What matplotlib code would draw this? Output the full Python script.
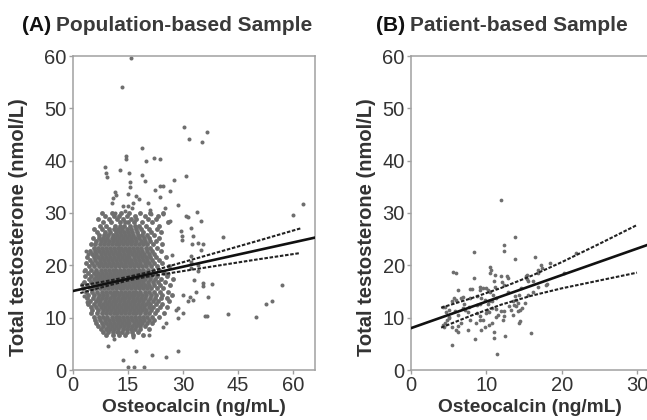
import matplotlib
matplotlib.use('Agg')
import matplotlib.pyplot as plt

plt.rcParams['font.family'] = ['Liberation Sans', 'DejaVu Sans']

# (A) dense cloud, read row by row: testosterone level -> osteocalcin values
cloud_y = [30.0, 29.4, 28.8, 28.2, 27.6, 27.0, 26.4, 25.8, 25.2, 24.6, 24.0, 23.4, 22.8, 22.2,
           21.6, 21.0, 20.4, 19.8, 19.2, 18.6, 18.0, 17.4, 16.8, 16.2, 15.6, 15.0, 14.4, 13.8,
           13.2, 12.6, 12.0, 11.4, 10.8, 10.2, 9.6, 9.0, 8.4, 7.8, 7.2, 6.6]
cloud_x = [
    [7.9, 10.6, 13.1, 15.4, 18.2, 21.0, 24.6],
    [8.8, 11.3, 12.6, 14.8, 16.9, 19.5, 23.1],
    [6.9, 9.7, 12.0, 13.7, 15.9, 17.3, 20.4, 22.6],
    [8.3, 10.4, 12.9, 14.2, 15.1, 16.6, 18.8, 21.5, 25.9],
    [7.4, 9.1, 11.5, 12.7, 13.9, 15.5, 16.8, 18.1, 19.9, 23.4],
    [5.8, 8.0, 9.9, 11.1, 12.3, 13.4, 14.6, 15.8, 17.2, 18.5, 20.7, 22.8],
    [6.6, 8.7, 10.2, 11.7, 12.8, 13.8, 14.9, 16.1, 17.5, 19.2, 21.3, 24.1],
    [7.2, 8.5, 9.6, 10.8, 11.9, 13.0, 14.2, 15.3, 16.4, 17.7, 18.9, 20.2, 22.0],
    [5.4, 7.0, 8.2, 9.3, 10.5, 11.4, 12.5, 13.6, 14.7, 15.7, 16.9, 18.0, 19.3, 20.8, 23.5],
    [6.3, 7.6, 8.8, 9.9, 11.0, 12.1, 13.1, 14.1, 15.2, 16.2, 17.3, 18.5, 19.7, 21.1, 22.6],
    [4.9, 6.0, 7.3, 8.4, 9.5, 10.6, 11.6, 12.6, 13.7, 14.7, 15.8, 16.8, 17.9, 19.0, 20.3, 21.7, 24.3],
    [5.7, 6.8, 7.9, 9.0, 10.1, 11.2, 12.2, 13.2, 14.3, 15.3, 16.3, 17.4, 18.6, 19.8, 21.1, 23.0],
    [4.6, 5.9, 7.1, 8.2, 9.3, 10.4, 11.5, 12.5, 13.5, 14.6, 15.6, 16.7, 17.8, 18.9, 20.2, 21.6, 23.9],
    [5.2, 6.4, 7.5, 8.6, 9.7, 10.8, 11.9, 12.9, 14.0, 15.0, 16.0, 17.1, 18.2, 19.4, 20.6, 22.2],
    [3.9, 5.6, 6.9, 8.0, 9.1, 10.2, 11.3, 12.3, 13.3, 14.4, 15.4, 16.5, 17.6, 18.7, 19.8, 21.0, 22.7, 25.3],
    [4.7, 6.1, 7.3, 8.4, 9.5, 10.6, 11.7, 12.7, 13.8, 14.8, 15.8, 16.9, 18.0, 19.1, 20.3, 21.5, 23.4],
    [3.6, 5.2, 6.6, 7.7, 8.8, 9.9, 11.0, 12.1, 13.1, 14.2, 15.2, 16.2, 17.3, 18.4, 19.5, 20.7, 22.0, 24.2],
    [4.4, 5.8, 7.0, 8.1, 9.2, 10.3, 11.4, 12.5, 13.5, 14.5, 15.6, 16.6, 17.7, 18.8, 19.9, 21.2, 22.9, 26.1],
    [3.2, 5.0, 6.3, 7.5, 8.6, 9.7, 10.8, 11.8, 12.9, 13.9, 14.9, 16.0, 17.0, 18.1, 19.2, 20.4, 21.7, 23.5],
    [4.1, 5.6, 6.8, 7.9, 9.0, 10.1, 11.2, 12.2, 13.3, 14.3, 15.3, 16.4, 17.4, 18.5, 19.6, 20.8, 22.3, 24.8],
    [3.4, 4.9, 6.2, 7.3, 8.4, 9.5, 10.6, 11.6, 12.7, 13.7, 14.7, 15.8, 16.8, 17.9, 19.0, 20.1, 21.4, 23.0, 25.6],
    [4.3, 5.7, 6.9, 8.0, 9.1, 10.2, 11.3, 12.3, 13.4, 14.4, 15.4, 16.5, 17.5, 18.6, 19.7, 20.9, 22.4, 24.1, 27.2],
    [3.0, 4.8, 6.3, 7.5, 8.6, 9.7, 10.8, 11.8, 12.9, 13.9, 14.9, 16.0, 17.0, 18.1, 19.2, 20.4, 21.7, 23.3, 25.0],
    [3.8, 5.4, 6.8, 7.9, 9.0, 10.1, 11.2, 12.2, 13.3, 14.3, 15.3, 16.4, 17.4, 18.5, 19.6, 20.8, 22.1, 23.8, 26.4],
    [2.6, 4.5, 6.1, 7.3, 8.4, 9.5, 10.6, 11.6, 12.7, 13.7, 14.7, 15.8, 16.8, 17.9, 19.0, 20.1, 21.4, 22.9, 24.6],
    [3.5, 5.2, 6.6, 7.8, 8.9, 10.0, 11.1, 12.1, 13.2, 14.2, 15.2, 16.3, 17.3, 18.4, 19.5, 20.7, 22.0, 23.6, 25.9],
    [4.2, 5.8, 7.1, 8.3, 9.4, 10.5, 11.5, 12.6, 13.6, 14.6, 15.7, 16.7, 17.8, 18.9, 20.0, 21.2, 22.6, 24.3, 27.0],
    [3.9, 5.5, 6.8, 8.0, 9.1, 10.2, 11.2, 12.3, 13.3, 14.3, 15.4, 16.4, 17.5, 18.6, 19.7, 20.9, 22.3, 24.0, 25.7],
    [4.6, 6.2, 7.4, 8.6, 9.7, 10.8, 11.8, 12.9, 13.9, 14.9, 16.0, 17.0, 18.1, 19.2, 20.4, 21.7, 23.2, 26.2],
    [4.0, 5.7, 7.0, 8.2, 9.3, 10.4, 11.4, 12.5, 13.5, 14.5, 15.6, 16.6, 17.7, 18.8, 19.9, 21.1, 22.5, 24.4],
    [4.8, 6.4, 7.7, 8.8, 9.9, 11.0, 12.0, 13.1, 14.1, 15.1, 16.2, 17.2, 18.3, 19.4, 20.6, 21.9, 23.6, 25.5],
    [5.3, 6.9, 8.1, 9.2, 10.3, 11.4, 12.5, 13.5, 14.5, 15.6, 16.6, 17.7, 18.8, 19.9, 21.2, 22.8],
    [4.9, 6.5, 7.8, 8.9, 10.0, 11.1, 12.1, 13.2, 14.2, 15.2, 16.3, 17.3, 18.4, 19.6, 20.8, 22.3, 24.8],
    [5.6, 7.1, 8.3, 9.4, 10.5, 11.6, 12.6, 13.7, 14.7, 15.8, 16.8, 17.9, 19.0, 20.2, 21.6, 23.4],
    [5.9, 7.4, 8.6, 9.7, 10.8, 11.9, 12.9, 14.0, 15.0, 16.1, 17.1, 18.2, 19.4, 20.7, 22.2],
    [6.4, 7.8, 9.0, 10.1, 11.2, 12.3, 13.3, 14.4, 15.4, 16.5, 17.6, 18.8, 20.1, 21.5],
    [6.9, 8.3, 9.5, 10.6, 11.7, 12.8, 13.9, 14.9, 16.0, 17.1, 18.3, 19.7],
    [7.5, 8.9, 10.1, 11.3, 12.4, 13.5, 14.6, 15.7, 16.9, 18.4, 20.6],
    [8.2, 9.6, 11.0, 12.2, 13.4, 14.7, 16.2, 17.8],
    [9.1, 10.8, 12.6, 14.3, 16.4, 19.1],
]

# (A) scattered points around the cloud
sparse_x = [15.8, 13.3, 30.3, 31.5, 35.3, 36.5, 18.7, 14.4, 14.5, 12.8, 8.7, 9.1, 9.4, 15.3,
            19.9, 22.2, 23.7, 18.9, 19.6, 30.7, 27.6, 23.7, 24.6, 26.5, 22.4, 28.5, 33.7, 30.8,
            34.9, 60.1, 62.6, 41.0, 15.5, 15.5, 11.4, 11.8, 10.9, 10.6, 15.0, 16.4, 15.0, 17.3,
            18.1, 23.6, 31.4, 20.4, 21.0, 21.3, 13.6, 14.2, 16.0, 11.4, 25.0, 24.5, 26.4, 32.2,
            29.4, 29.6, 29.7, 32.8, 32.4, 34.0, 35.5, 34.8, 32.2, 32.2, 32.2, 34.0, 34.0, 35.5,
            35.5, 37.8, 36.7, 33.1, 33.5, 30.0, 31.8, 31.4, 32.7, 28.2, 28.6, 30.0, 36.0, 36.5,
            42.2, 49.9, 52.6, 54.2, 56.9, 28.5, 9.5, 13.6, 15.0, 16.5, 19.3, 17.3, 21.6, 25.3,
            28.6, 16.3, 20.8, 11.3, 12.0, 24.5, 25.4, 3.5, 4.1, 2.9, 2.4, 3.1, 3.7, 27.1, 26.0]
sparse_y = [59.6, 54.1, 46.5, 44.1, 43.6, 45.5, 42.5, 40.8, 40.3, 38.3, 38.7, 37.6, 36.9, 37.7,
            40.0, 40.5, 40.3, 37.2, 36.1, 37.0, 36.4, 35.1, 35.1, 34.2, 34.3, 31.5, 30.1, 29.4,
            28.5, 29.7, 31.7, 25.5, 35.9, 34.9, 34.1, 33.4, 32.8, 31.9, 33.7, 32.0, 31.3, 33.3,
            32.7, 33.0, 29.3, 31.9, 30.6, 29.8, 31.3, 30.4, 30.9, 30.0, 31.0, 29.8, 28.5, 27.2,
            26.5, 25.7, 24.9, 25.6, 24.1, 24.3, 24.0, 23.0, 21.7, 20.7, 19.4, 20.0, 18.9, 16.6,
            16.0, 16.4, 14.0, 17.2, 14.9, 14.3, 14.0, 13.1, 13.4, 11.5, 9.9, 10.8, 10.4, 10.3,
            10.7, 10.1, 12.7, 13.1, 16.2, 11.8, 4.5, 1.9, 0.6, 0.6, 0.6, 3.6, 2.9, 2.4,
            3.6, 6.4, 6.7, 5.9, 7.3, 8.3, 8.9, 22.8, 22.1, 19.0, 16.4, 14.2, 12.9, 21.9, 18.4]

# (A) regression line and dashed 95% band
fit_a_x = [0, 66]
fit_a_y = [15.1, 25.3]
band_a_x = [2, 10, 15, 20, 30, 40, 50, 62]
band_a_hi = [16.1, 17.1, 17.8, 18.6, 20.6, 22.6, 24.6, 27.05]
band_a_lo = [14.7, 16.2, 17.1, 17.8, 18.9, 20.0, 21.1, 22.35]

# (B) patient sample
b_x = [11.9, 13.8, 12.3, 12.3, 8.4, 13.8, 16.4, 21.9, 10.5, 10.6, 10.5, 5.6, 6.0, 8.3, 11.2,
       12.0, 12.8, 12.9, 11.0, 12.1, 15.4, 15.6, 17.2, 17.4, 16.9, 16.8, 18.5, 20.3, 17.9, 18.1,
       15.4, 16.2, 16.2, 16.9, 9.2, 9.9, 10.2, 8.1, 6.3, 6.9, 6.6, 7.8, 8.7, 11.2, 12.4, 12.9,
       13.8, 14.0, 14.2, 14.7, 13.9, 13.0, 13.3, 13.5, 11.3, 12.0, 10.2, 10.7, 8.8, 7.7, 6.9,
       4.5, 5.0, 5.0, 7.8, 6.6, 6.2, 8.6, 9.1, 5.4, 4.2, 4.4, 5.5, 6.0, 6.3, 7.6, 8.5, 9.3, 9.8,
       10.3, 10.8, 11.0, 11.0, 11.4, 12.5, 11.3, 11.5, 12.2, 12.4, 12.3, 14.2, 14.5, 15.1, 14.4,
       14.5, 15.9, 14.4, 14.6, 15.3, 7.2, 7.6, 8.7, 9.1, 9.8, 7.0, 10.1, 10.3, 10.7, 10.9, 10.5,
       11.3, 5.8, 6.3, 9.1, 9.5, 9.9, 5.5, 5.7, 6.0, 7.8, 9.1, 9.5, 9.3, 10.3, 4.3, 4.6, 5.1,
       4.8, 4.5, 15.6, 13.5, 13.7]
b_y = [32.4, 25.5, 23.9, 22.8, 22.6, 21.3, 21.5, 22.3, 19.7, 19.2, 18.6, 18.8, 18.5, 17.5, 18.1,
       17.9, 18.0, 17.6, 17.1, 16.8, 17.3, 17.0, 20.1, 19.5, 19.2, 18.5, 20.5, 18.6, 16.2, 16.5,
       18.2, 17.0, 15.0, 15.8, 15.9, 15.6, 15.3, 15.4, 15.3, 14.0, 13.8, 13.8, 14.1, 15.9, 16.3,
       15.0, 14.1, 13.4, 12.8, 11.9, 12.2, 12.3, 11.4, 10.5, 11.6, 11.3, 12.7, 11.8, 12.4, 12.1,
       11.9, 12.1, 11.5, 9.9, 9.6, 9.0, 8.4, 8.9, 9.6, 4.8, 8.6, 8.2, 8.3, 7.6, 7.3, 7.6, 6.0,
       7.6, 8.2, 8.6, 9.0, 7.2, 6.2, 3.0, 6.5, 10.2, 10.6, 9.5, 10.4, 11.2, 11.2, 11.5, 12.8,
       9.0, 9.3, 7.1, 14.4, 15.7, 17.9, 11.5, 11.1, 10.9, 12.7, 13.4, 12.7, 11.5, 11.0, 13.2,
       14.3, 14.9, 13.8, 11.2, 10.6, 10.3, 9.6, 10.9, 13.2, 13.7, 13.4, 15.5, 15.2, 15.6, 13.8,
       13.1, 12.1, 11.0, 10.2, 9.5, 9.0, 14.4, 13.2, 12.5]

# (B) regression line and dashed 95% band
fit_b_x = [0, 31.6]
fit_b_y = [8.0, 24.0]
band_b_x = [4, 8, 12, 16, 20, 25, 30]
band_b_hi = [11.9, 13.7, 15.7, 18.0, 20.6, 24.1, 27.7]
band_b_lo = [8.1, 10.4, 12.5, 14.2, 15.6, 17.1, 18.6]

dot_color = '#6e6e6e'
frame_color = '#a0a0a0'
text_color = '#333333'

fig = plt.figure(figsize=(6.47, 4.2), dpi=100)
axA = fig.add_axes([73 / 647, 50 / 420, 242 / 647, 314 / 420])
axB = fig.add_axes([411 / 647, 50 / 420, 238 / 647, 314 / 420])

xa, ya = [], []
for y, row in zip(cloud_y, cloud_x):
    xa += row
    ya += [y] * len(row)

axA.plot(xa, ya, 'o', ms=3.5, mew=0, color=dot_color, zorder=2)
axA.plot(sparse_x, sparse_y, 'o', ms=2.9, mew=0, color=dot_color, zorder=2)
axA.plot(fit_a_x, fit_a_y, color='#111111', lw=1.9, zorder=4)
axA.plot(band_a_x, band_a_hi, color='#222222', lw=1.5, ls=(0, (1.7, 0.8)), zorder=3)
axA.plot(band_a_x, band_a_lo, color='#222222', lw=1.5, ls=(0, (1.7, 0.8)), zorder=3)

axB.plot(b_x, b_y, 'o', ms=2.7, mew=0, color=dot_color, zorder=2)
axB.plot(fit_b_x, fit_b_y, color='#111111', lw=1.9, zorder=4)
axB.plot(band_b_x, band_b_hi, color='#222222', lw=1.5, ls=(0, (1.7, 0.8)), zorder=3)
axB.plot(band_b_x, band_b_lo, color='#222222', lw=1.5, ls=(0, (1.7, 0.8)), zorder=3)

axA.set_xlim(0, 66)
axA.set_xticks([0, 15, 30, 45, 60])
axB.set_xlim(0, 31.6)
axB.set_xticks([0, 10, 20, 30])

for ax in (axA, axB):
    ax.set_ylim(0, 60)
    ax.set_yticks(range(0, 61, 10))
    for s in ax.spines.values():
        s.set_color(frame_color)
        s.set_linewidth(1.1)
    ax.tick_params(direction='out', length=3, width=1, color=frame_color,
                   labelsize=14.5, labelcolor=text_color, pad=1.5)
    ax.set_xlabel('Osteocalcin (ng/mL)', fontsize=13.8, fontweight='bold', color=text_color, labelpad=2.5)
    ax.set_ylabel('Total testosterone (nmol/L)', fontsize=14.5, fontweight='bold', color=text_color)

axA.yaxis.set_label_coords(-0.185, 0.455)
axB.yaxis.set_label_coords(-0.148, 0.455)

fig.text(22 / 647, 1 - 31 / 420, '(A)', fontsize=15, fontweight='bold', color='#111111')
fig.text(56 / 647, 1 - 31 / 420, 'Population-based Sample', fontsize=15, fontweight='bold', color='#3a3a3a')
fig.text(376 / 647, 1 - 31 / 420, '(B)', fontsize=15, fontweight='bold', color='#111111')
fig.text(410 / 647, 1 - 31 / 420, 'Patient-based Sample', fontsize=15, fontweight='bold', color='#3a3a3a')

fig.savefig('out.png', dpi=100)
